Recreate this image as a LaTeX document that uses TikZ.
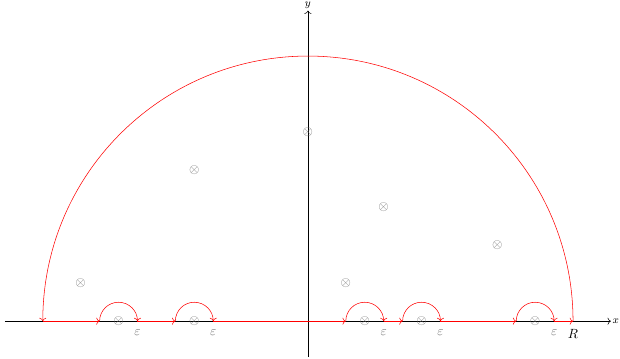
\documentclass[tikz,border=0pt]{standalone}
\usepackage{amsmath}
\usepackage{amssymb}
\usepackage{tikz}
\usetikzlibrary{arrows.meta, calc}
\tikzset{
  axis/.style    = {->, black},
  contour/.style = {->, red},
  pole/.style    = {inner sep=0pt, text=black!55},
  epslabel/.style = {below, inner sep=3pt, yshift=-3pt, text=black!55},
}

\begin{document}
\begin{tikzpicture}[x=1cm, y=1cm]
    \useasboundingbox (-8.13,-0.98) rectangle (8.24,8.48);

    % --- axes ---------------------------------------------------------------
    \coordinate (O) at (0,0);
    \draw[axis] (-8,0) -- (8,0) node[right, inner sep=1pt] (xlab) {\footnotesize $x$};
    \draw[axis] (0,-0.95) -- (0,8.2) node[above, inner sep=1pt] (ylab) {\footnotesize $y$};

    % --- large half circle of radius R ----------------------------------------
    \draw[contour] (7,0) arc (0:180:7);
    \node[below, inner sep=3pt, yshift=-3pt] (Rlab) at (7,0) {$R$};

    % --- straight pieces along the real axis ----------------------------------
    \foreach \a/\b in {-7/-5.5, -4.5/-3.5, -2.5/1, 2/2.5, 3.5/5.5, 6.5/7}
      \draw[contour] (\a,0) -- (\b,0);

    % --- small indentations round the poles on the axis -----------------------
    \foreach \p [count=\i] in {-5,-3,1.5,3,6} {
      \draw[contour] ($(\p,0)+(-0.5,0)$) arc (180:0:0.5);
      \node[pole] (ax\i) at (\p,0) {$\otimes$};
      \node[epslabel] (eps\i) at ($(\p,0)+(0.5,0)$) {$\varepsilon$};
    }

    % --- poles in the upper half plane ----------------------------------------
    \foreach \px/\py [count=\i] in {0/5, -3/4, 2/3, 5/2, -6/1, 1/1}
      \node[pole] (up\i) at (\px,\py) {$\otimes$};

\end{tikzpicture}
\end{document}
